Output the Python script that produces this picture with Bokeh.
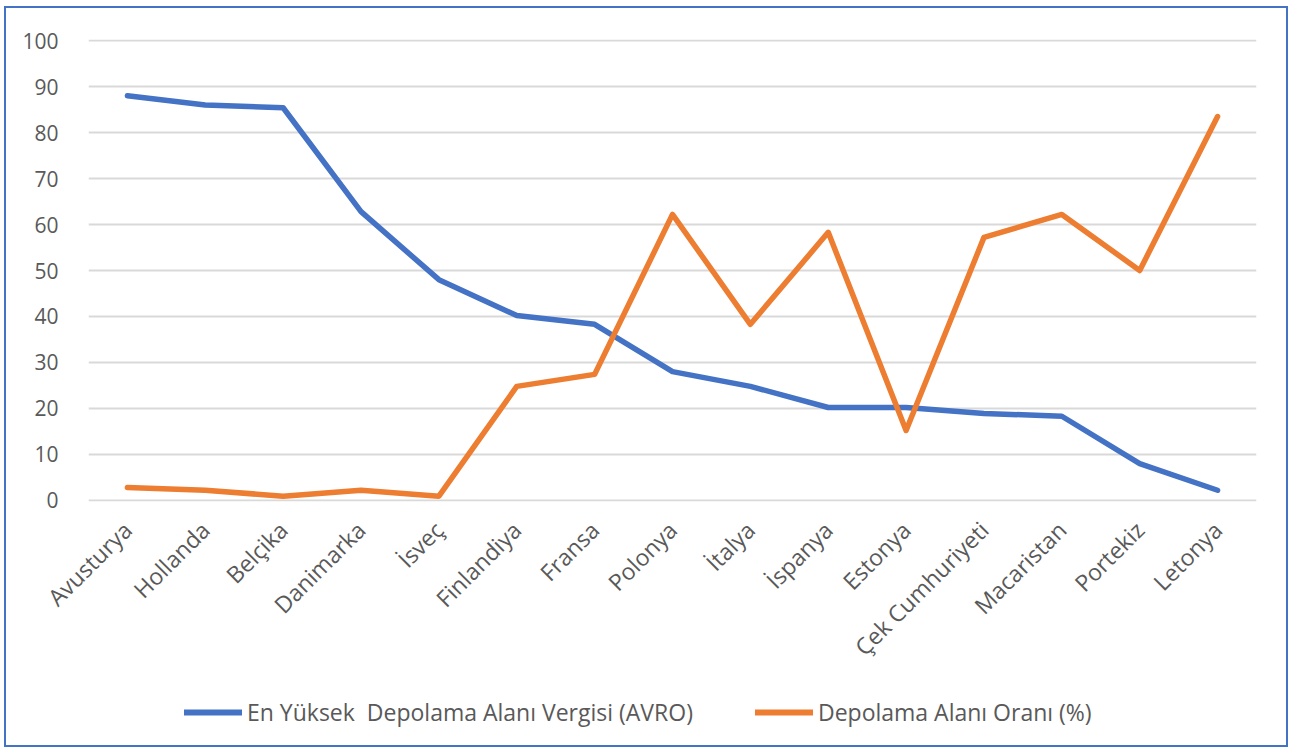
import math
from bokeh.plotting import figure
from bokeh.layouts import column
from bokeh.models import ColumnDataSource, FactorRange, Range1d, Legend, LegendItem, FixedTicker
from bokeh.embed import file_html
from bokeh.resources import INLINE

countries = ["Avusturya", "Hollanda", "Belçika", "Danimarka", "İsveç", "Finlandiya", "Fransa",
             "Polonya", "İtalya", "İspanya", "Estonya", "Çek Cumhuriyeti", "Macaristan",
             "Portekiz", "Letonya"]
vergi = [88, 86, 85.4, 62.8, 48, 40.2, 38.3, 28, 24.8, 20.2, 20.2, 18.9, 18.3, 8, 2.2]
oran = [2.8, 2.2, 0.9, 2.2, 0.9, 24.8, 27.4, 62.2, 38.3, 58.3, 15.2, 57.2, 62.2, 50, 83.5]
y_ticks = [0, 10, 20, 30, 40, 50, 60, 70, 80, 90, 100]
series_names = ["En Yüksek  Depolama Alanı Vergisi (AVRO)", "Depolama Alanı Oranı (%)"]
colors = ["#4472c4", "#ed7d31"]

FONT = "Open Sans"
TXT = "#595959"

src = ColumnDataSource(dict(c=countries, v=vergi, o=oran))

p = figure(width=1280, height=685, x_range=FactorRange(*countries, range_padding=0),
           y_range=Range1d(-0.25, 100.25), output_backend="svg", toolbar_location=None,
           min_border_left=82, min_border_right=30, min_border_top=31, min_border_bottom=192)
p.outline_line_color = None
p.background_fill_color = "white"
p.border_fill_color = "white"

p.line("c", "v", source=src, line_color=colors[0], line_width=5.5,
       line_cap="round", line_join="round")
p.line("c", "o", source=src, line_color=colors[1], line_width=5.5,
       line_cap="round", line_join="round")

p.xgrid.grid_line_color = None
p.ygrid.grid_line_color = "#d9d9d9"
p.ygrid.grid_line_width = 2
p.yaxis.ticker = FixedTicker(ticks=y_ticks)

for ax in (p.xaxis[0], p.yaxis[0]):
    ax.axis_line_color = None
    ax.major_tick_line_color = None
    ax.minor_tick_line_color = None
    ax.major_label_text_font = FONT
    ax.major_label_text_color = TXT
    ax.major_label_text_font_size = "21px"

p.yaxis.major_label_standoff = 24
p.xaxis.major_label_orientation = math.pi / 4
p.xaxis.major_label_standoff = 18
p.xaxis.major_label_text_font_size = "23px"

# legend strip below the chart (sample lines lie outside the visible range)
q = figure(width=1280, height=52, x_range=Range1d(0, 1), y_range=Range1d(0, 1),
           output_backend="svg", toolbar_location=None,
           min_border_left=0, min_border_right=0, min_border_top=0, min_border_bottom=0)
q.axis.visible = False
q.grid.visible = False
q.outline_line_color = None
q.background_fill_color = "white"
q.border_fill_color = "white"
l1 = q.line([-3, -2], [-3, -3], line_color=colors[0], line_width=6, line_cap="round")
l2 = q.line([-3, -2], [-3, -3], line_color=colors[1], line_width=6, line_cap="round")

legend = Legend(items=[LegendItem(label=series_names[0], renderers=[l1]),
                       LegendItem(label=series_names[1], renderers=[l2])],
                orientation="horizontal", location=(96, 17),
                label_text_font=FONT, label_text_color=TXT, label_text_font_size="23px",
                glyph_width=58, label_standoff=5, spacing=62,
                border_line_color=None, background_fill_alpha=0,
                margin=0, padding=0)
q.add_layout(legend, "center")

layout = column(p, q, spacing=0)
layout.margin = (6, 0, 0, 4)
layout.styles = {"border": "2px solid #4472c4", "background-color": "white"}

open("out.html", "w").write(file_html(layout, INLINE))
